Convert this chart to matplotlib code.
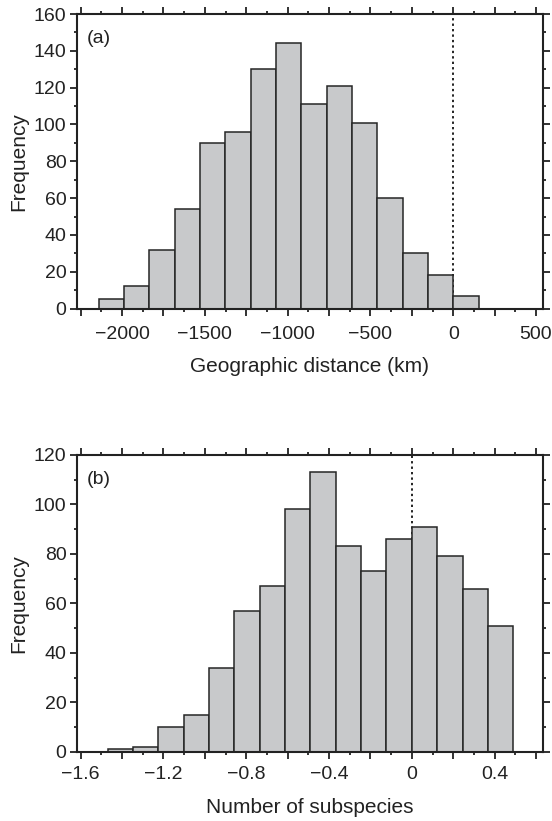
import numpy as np
import matplotlib
matplotlib.use("Agg")
import matplotlib.pyplot as plt
from matplotlib.ticker import MultipleLocator, FuncFormatter

# panel (a): geographic distance histogram
edges_a = [-2142, -1989, -1836, -1683, -1530, -1377, -1224, -1071, -918,
           -765, -612, -459, -306, -153, 0, 153]
counts_a = [5, 12, 32, 54, 90, 96, 130, 144, 111, 121, 101, 60, 30, 18, 7]

# panel (b): number of subspecies histogram
edges_b = [-1.47, -1.3475, -1.225, -1.1025, -0.98, -0.8575, -0.735, -0.6125,
           -0.49, -0.3675, -0.245, -0.1225, 0.0, 0.1225, 0.245, 0.3675, 0.49]
counts_b = [1, 2, 10, 15, 34, 57, 67, 98, 113, 83, 73, 86, 91, 79, 66, 51]

plt.rcParams['font.family'] = ['Liberation Sans', 'DejaVu Sans']
plt.rcParams['axes.linewidth'] = 1.5

BAR_FACE = '#c8c9cb'
BAR_EDGE = '#262626'
INK = '#222222'


def style_axes(ax, xmajor, xminor, label_every, fmt, xpad):
    ax.xaxis.set_major_locator(MultipleLocator(xmajor))
    ax.xaxis.set_minor_locator(MultipleLocator(xminor))
    ax.yaxis.set_major_locator(MultipleLocator(20))
    ax.yaxis.set_minor_locator(MultipleLocator(10))

    def xfmt(v, pos):
        k = v / label_every
        if abs(k - round(k)) > 1e-6:
            return ''
        return fmt(v)
    ax.xaxis.set_major_formatter(FuncFormatter(xfmt))
    ax.tick_params(which='both', direction='out', top=True, right=True,
                   width=1.3, labelsize=14, colors=INK)
    ax.tick_params(which='major', length=4.8)
    ax.tick_params(which='minor', length=2.4)
    ax.tick_params(axis='x', pad=xpad)
    ax.tick_params(axis='y', pad=2.5)
    for s in ax.spines.values():
        s.set_color(INK)


def fmt_a(v):
    return '0' if abs(v) < 1e-9 else f'{v:.0f}'.replace('-', '\u2212')


def fmt_b(v):
    return '0' if abs(v) < 1e-9 else f'{v:.1f}'.replace('-', '\u2212')


fig = plt.figure(figsize=(5.52, 8.21), dpi=100)
ax1 = fig.add_axes([0.139, 0.6242, 0.844, 0.3587])
ax2 = fig.add_axes([0.139, 0.0844, 0.844, 0.3614])

ax1.bar(edges_a[:-1], counts_a, width=np.diff(edges_a), align='edge',
        color=BAR_FACE, edgecolor=BAR_EDGE, linewidth=1.1, zorder=2)
ax1.axvline(0, color=INK, linestyle=(0, (1.2, 1.6)), linewidth=1.4, zorder=1)
ax1.set_xlim(-2274, 540)
ax1.set_ylim(0, 160)
style_axes(ax1, 250, 125, 500, fmt_a, 7.5)
ax1.set_xlabel('Geographic distance (km)', fontsize=15, labelpad=10.5, color=INK)
ax1.set_ylabel('Frequency', fontsize=15, labelpad=4, color=INK)
ax1.text(0.021, 0.918, '(a)', transform=ax1.transAxes, fontsize=14,
         ha='left', va='center', color=INK)

ax2.bar(edges_b[:-1], counts_b, width=np.diff(edges_b), align='edge',
        color=BAR_FACE, edgecolor=BAR_EDGE, linewidth=1.1, zorder=2)
ax2.axvline(0, color=INK, linestyle=(0, (1.2, 1.6)), linewidth=1.4, zorder=1)
ax2.set_xlim(-1.619, 0.632)
ax2.set_ylim(0, 120)
style_axes(ax2, 0.2, 0.1, 0.4, fmt_b, 5.5)
ax2.set_xlabel('Number of subspecies', fontsize=15, labelpad=10.5, color=INK)
ax2.set_ylabel('Frequency', fontsize=15, labelpad=4, color=INK)
ax2.text(0.021, 0.918, '(b)', transform=ax2.transAxes, fontsize=14,
         ha='left', va='center', color=INK)

fig.savefig('out.png', dpi=100)
plt.close(fig)
